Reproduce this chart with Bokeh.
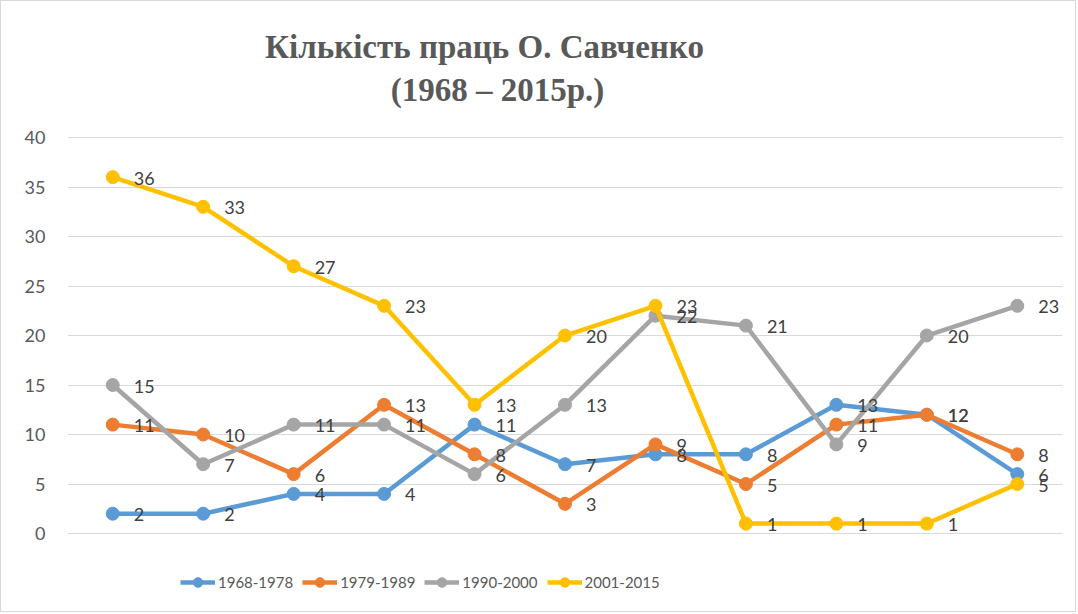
from bokeh.plotting import figure
from bokeh.models import Range1d, FactorRange, Legend, LegendItem, Label, FixedTicker
from bokeh.embed import file_html
from bokeh.resources import INLINE
from bokeh.core.properties import value

categories = ["1", "2", "3", "4", "5", "6", "7", "8", "9", "10", "11"]
series_names = ["1968-1978", "1979-1989", "1990-2000", "2001-2015"]
s_1968_1978 = [2, 2, 4, 4, 11, 7, 8, 8, 13, 12, 6]
s_1979_1989 = [11, 10, 6, 13, 8, 3, 9, 5, 11, 12, 8]
s_1990_2000 = [15, 7, 11, 11, 6, 13, 22, 21, 9, 20, 23]
s_2001_2015 = [36, 33, 27, 23, 13, 20, 23, 1, 1, 1, 5]
series_values = [s_1968_1978, s_1979_1989, s_1990_2000, s_2001_2015]
colors = ["#5B9BD5", "#ED7D31", "#A5A5A5", "#FFC000"]
y_ticks = [0, 5, 10, 15, 20, 25, 30, 35, 40]
title_lines = ["Кількість праць О. Савченко", "(1968 – 2015р.)"]

# frame spans the whole chart height; only 0..40 is ticked / gridded
p = figure(width=1076, height=612, output_backend="svg", toolbar_location=None,
           x_range=FactorRange(*categories, range_padding=0),
           y_range=Range1d(-8.08, 53.74),
           min_border_left=66, min_border_right=15, min_border_top=0, min_border_bottom=0)
p.styles = {"border": "1px solid #d9d9d9"}
p.outline_line_color = None
p.background_fill_color = "white"
p.border_fill_color = "white"

p.xaxis.visible = False
p.xgrid.grid_line_color = None
p.ygrid.grid_line_color = "#D9D9D9"
p.ygrid.grid_line_width = 1
p.ygrid.ticker = FixedTicker(ticks=y_ticks)

p.yaxis.ticker = FixedTicker(ticks=y_ticks)
p.yaxis.axis_line_color = None
p.yaxis.major_tick_line_color = None
p.yaxis.minor_tick_line_color = None
p.yaxis.major_tick_out = 0
p.yaxis.major_tick_in = 0
p.yaxis.major_label_standoff = 22
p.yaxis.major_label_text_font = "Lato"
p.yaxis.major_label_text_font_size = "18px"
p.yaxis.major_label_text_color = "#595959"

items = []
for name, vals, col in zip(series_names, series_values, colors):
    ln = p.line(categories, vals, line_color=col, line_width=4.5, line_join="round")
    sc = p.scatter(categories, vals, size=13, fill_color=col, line_color=col)
    items.append(LegendItem(label=name, renderers=[ln, sc]))

for vals in series_values:
    p.text(categories, vals, text=[str(v) for v in vals], x_offset=21, y_offset=1,
           text_font=value("Lato"), text_font_size="18px", text_color="#404040",
           text_baseline="middle", text_align="left")

legend = Legend(items=items, orientation="horizontal", location=(113, 19),
                glyph_width=35, glyph_height=24, spacing=9, label_standoff=3,
                padding=5, margin=0, border_line_color=None, background_fill_alpha=0,
                label_text_font="Lato", label_text_font_size="15px",
                label_text_color="#595959")
p.add_layout(legend, "center")

for txt, lx, ly in zip(title_lines, [417, 430], [567, 524]):
    p.add_layout(Label(x=lx, y=ly, x_units="screen", y_units="screen", text=txt,
                       text_align="center", text_baseline="middle",
                       text_font="Liberation Serif", text_font_style="bold",
                       text_font_size="33px", text_color="#595959"))

open("out.html", "w").write(file_html(p, INLINE))
